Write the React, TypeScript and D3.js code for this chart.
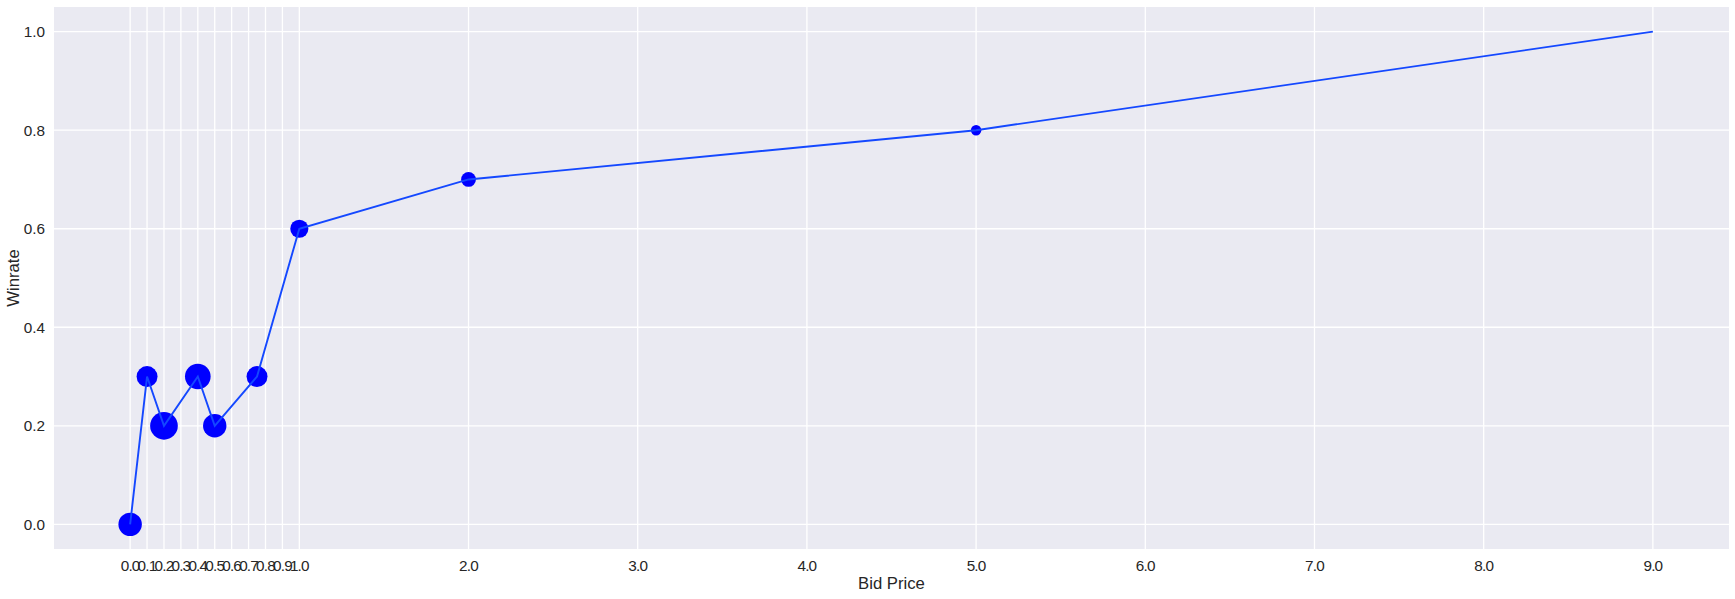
import React from "react";
import * as d3 from "d3";

// Data
const bidPrice = [0.0, 0.1, 0.2, 0.4, 0.5, 0.75, 1.0, 2.0, 5.0, 9.0];
const winrate = [0.0, 0.3, 0.2, 0.3, 0.2, 0.3, 0.6, 0.7, 0.8, 1.0];
const bidCount = [10, 8, 14, 12, 10, 8, 6, 4, 2, 0];
const xTicks = [0, 0.1, 0.2, 0.3, 0.4, 0.5, 0.6, 0.7, 0.8, 0.9, 1.0, 2, 3, 4, 5, 6, 7, 8, 9];
const yTicks = [0, 0.2, 0.4, 0.6, 0.8, 1.0];

const W = 1735;
const H = 599;
const M = { left: 54, top: 7, right: 6, bottom: 50 };
const FONT = "'Liberation Sans', Arial, sans-serif";
const TXT = "#262626";
const TICK_FS = 15.3;
const LABEL_FS = 16.7;

export default function App() {
  const pw = W - M.left - M.right;
  const ph = H - M.top - M.bottom;
  const x = d3.scaleLinear().domain([-0.45, 9.45]).range([M.left, M.left + pw]);
  const y = d3.scaleLinear().domain([-0.05, 1.05]).range([M.top + ph, M.top]);
  const r = d3.scaleSqrt().domain([0, 14]).range([0, 13.85]);
  const pts = bidPrice.map((b, i) => ({ b, w: winrate[i], c: bidCount[i] }));
  const line = d3
    .line<{ b: number; w: number }>()
    .x((d) => x(d.b))
    .y((d) => y(d.w));

  return (
    <svg
      width={W}
      height={H}
      style={{ position: "absolute", left: 0, top: 0, display: "block" }}
    >
      <rect x={0} y={0} width={W} height={H} fill="#ffffff" />
      <rect x={M.left} y={M.top} width={pw} height={ph} fill="#EAEAF2" />
      {xTicks.map((t) => (
        <line
          key={"gx" + t}
          x1={x(t)}
          x2={x(t)}
          y1={M.top}
          y2={M.top + ph}
          stroke="#ffffff"
          strokeWidth={1.3}
        />
      ))}
      {yTicks.map((t) => (
        <line
          key={"gy" + t}
          x1={M.left}
          x2={M.left + pw}
          y1={y(t)}
          y2={y(t)}
          stroke="#ffffff"
          strokeWidth={1.3}
        />
      ))}
      {pts
        .filter((p) => p.c > 0)
        .map((p, i) => (
          <circle key={"m" + i} cx={x(p.b)} cy={y(p.w)} r={r(p.c)} fill="#0000ff" />
        ))}
      <path d={line(pts) || ""} fill="none" stroke="#1448ff" strokeWidth={1.9} />
      {xTicks.map((t) => (
        <text
          key={"tx" + t}
          x={x(t)}
          y={M.top + ph + 21.5}
          textAnchor="middle"
          fontFamily={FONT}
          fontSize={TICK_FS}
          letterSpacing={-0.8}
          fill={TXT}
        >
          {t.toFixed(1)}
        </text>
      ))}
      {yTicks.map((t) => (
        <text
          key={"ty" + t}
          x={M.left - 9}
          y={y(t)}
          dy="0.36em"
          textAnchor="end"
          fontFamily={FONT}
          fontSize={TICK_FS}
          fill={TXT}
        >
          {t.toFixed(1)}
        </text>
      ))}
      <text
        x={M.left + pw / 2}
        y={M.top + ph + 40}
        textAnchor="middle"
        fontFamily={FONT}
        fontSize={LABEL_FS}
        fill={TXT}
      >
        Bid Price
      </text>
      <text
        transform={`translate(18.5, ${M.top + ph / 2}) rotate(-90)`}
        textAnchor="middle"
        fontFamily={FONT}
        fontSize={LABEL_FS}
        fill={TXT}
      >
        Winrate
      </text>
    </svg>
  );
}
